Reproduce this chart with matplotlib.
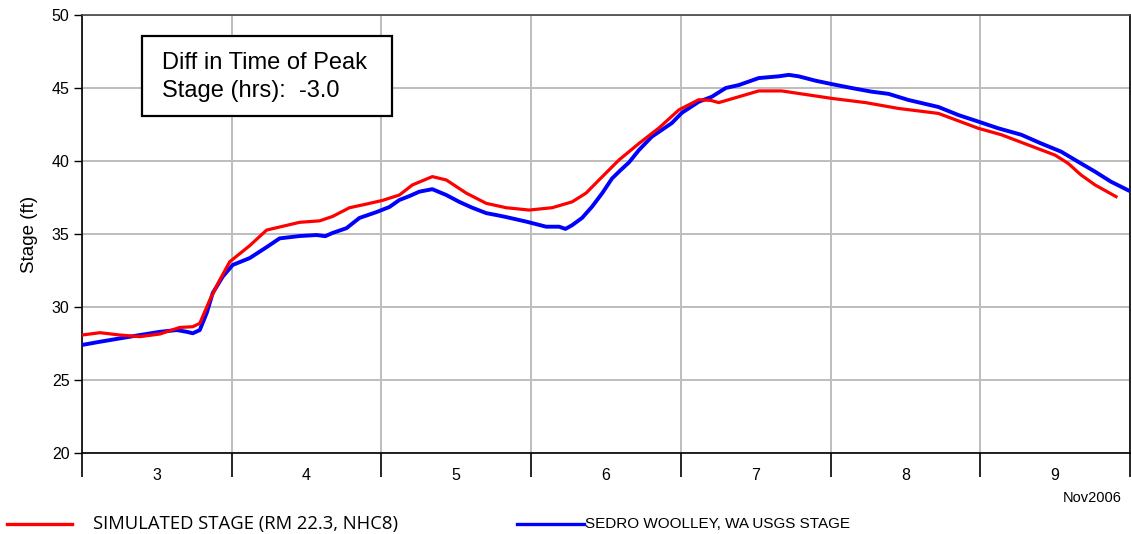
import matplotlib
matplotlib.use("Agg")
import matplotlib.pyplot as plt
from matplotlib.lines import Line2D
from matplotlib.patches import Rectangle
import numpy as np

# Hours after 2006-11-03 00:00 and stage (ft)
sim_hours = [0, 2.88, 6.08, 9.28, 12.48, 15.68, 17.76, 18.88, 20.48, 22.08, 23.68,
             26.88, 29.6, 34.88, 38.08, 40.16, 42.88, 45.6, 48.16, 50.88, 52.96,
             56.16, 58.4, 61.6, 64.8, 68.0, 71.68, 75.36, 78.56, 80.8, 82.88,
             86.08, 89.28, 92.48, 95.68, 98.88, 100.8, 102.08, 105.28, 108.48,
             112.16, 120.16, 125.6, 130.88, 137.28, 143.68, 147.36, 151.68, 156.0,
             158.08, 160.16, 162.4, 165.76]
sim_stage = [28.08, 28.24, 28.08, 27.97, 28.15, 28.6, 28.65, 28.88, 30.48, 31.85, 33.1,
             34.2, 35.27, 35.8, 35.9, 36.2, 36.8, 37.05, 37.3, 37.67, 38.36,
             38.93, 38.7, 37.8, 37.1, 36.8, 36.64, 36.8, 37.2, 37.8, 38.7,
             40.07, 41.2, 42.26, 43.5, 44.2, 44.15, 44.0, 44.4, 44.8,
             44.8, 44.29, 44.0, 43.6, 43.26, 42.24, 41.8, 41.1, 40.4,
             39.84, 39.04, 38.36, 37.56]

obs_hours = [0, 2.88, 6.08, 9.28, 12.48, 15.2, 16.8, 17.76, 18.88, 20.0, 20.96, 22.56,
             24.16, 26.88, 29.6, 31.68, 34.88, 37.6, 39.0, 40.16, 42.4, 44.48, 47.2,
             49.28, 50.88, 52.5, 54.08, 56.16, 58.4, 60.48, 62.56, 64.8, 66.4, 68.0,
             71.2, 74.4, 76.48, 77.5, 78.56, 80.16, 81.76, 83.4, 84.96, 86.4, 87.68,
             89.28, 91.36, 94.56, 96.16, 98.88, 100.96, 103.2, 105.28, 108.48,
             111.68, 113.3, 114.88, 117.6, 120.16, 123.36, 126.56, 129.28, 132.48,
             137.28, 140.48, 143.68, 146.88, 150.56, 153.76, 156.96, 159.68, 162.4,
             164.96, 167.68]
obs_stage = [27.4, 27.62, 27.85, 28.08, 28.3, 28.42, 28.3, 28.2, 28.42, 29.6, 30.96, 32.08,
             32.88, 33.35, 34.1, 34.7, 34.86, 34.93, 34.85, 35.07, 35.4, 36.1, 36.5,
             36.85, 37.33, 37.6, 37.9, 38.07, 37.67, 37.2, 36.8, 36.43, 36.3, 36.16,
             35.85, 35.5, 35.5, 35.35, 35.6, 36.1, 36.87, 37.8, 38.8, 39.4, 39.9,
             40.75, 41.67, 42.6, 43.3, 44.06, 44.4, 45.0, 45.2, 45.68,
             45.8, 45.9, 45.8, 45.5, 45.27, 45.0, 44.75, 44.6, 44.18,
             43.7, 43.15, 42.7, 42.24, 41.8, 41.2, 40.64, 39.95, 39.27,
             38.58, 38.0]

day_labels = ["3", "4", "5", "6", "7", "8", "9"]
y_ticks = [20, 25, 30, 35, 40, 45, 50]
sim_label = "SIMULATED STAGE (RM 22.3, NHC8)"
obs_label = "SEDRO WOOLLEY, WA USGS STAGE"
note_text = "Diff in Time of Peak\nStage (hrs):  -3.0"

start_day = 3
sim_x = start_day + np.array(sim_hours) / 24.0
obs_x = start_day + np.array(obs_hours) / 24.0

W, H = 1131, 534
fig = plt.figure(figsize=(W / 100, H / 100), dpi=100)
ax = fig.add_axes([82 / W, 1 - 453 / H, (1130 - 82) / W, (453 - 15) / H])

grid_c = "#bdbdbd"
ax.plot(obs_x, obs_stage, color="#0000ff", lw=2.8, solid_joinstyle="round", zorder=3)
ax.plot(sim_x, sim_stage, color="#ff0000", lw=2.3, solid_joinstyle="round", zorder=4)

ax.set_xlim(3, 9.987)
ax.set_ylim(20, 50)

# y axis
ax.set_yticks(y_ticks)
ax.set_yticklabels([str(v) for v in y_ticks], fontsize=11.5, family="Liberation Sans")
ax.tick_params(axis="y", length=6, width=1, pad=3, color="black")
ax.set_ylabel("Stage (ft)", fontsize=13.5, family="Liberation Sans", labelpad=10)

# x axis: day boundaries as long ticks, labels centred inside each day
ndays = len(day_labels)
bounds = [start_day + i for i in range(ndays + 1)]
ax.set_xticks(bounds)
ax.set_xticklabels([""] * len(bounds))
ax.tick_params(axis="x", which="major", direction="out", length=17, width=1.2, color="black")
ax.set_xticks([start_day + i + 0.5 for i in range(ndays)], minor=True)
ax.set_xticklabels(day_labels, minor=True, fontsize=11.5, family="Liberation Sans")
ax.tick_params(axis="x", which="minor", length=0, pad=11)

ax.grid(True, which="major", color=grid_c, lw=1.4, zorder=1)
for s in ax.spines.values():
    s.set_color("black")
    s.set_linewidth(1.2)
ax.spines["top"].set_color("#444444")

fig.text(1092 / W, 1 - 498 / H, "Nov2006", fontsize=10.5, family="Liberation Sans",
         ha="center", va="center")

# annotation box
fig.add_artist(Rectangle((142 / W, 1 - 116 / H), (392 - 142) / W, (116 - 36) / H,
                         transform=fig.transFigure, fc="white", ec="black", lw=1.6,
                         zorder=6))
fig.text(162 / W, 1 - 77 / H, note_text, fontsize=17, family="Liberation Sans",
         va="center", ha="left", linespacing=1.3, zorder=7)

# legend along the bottom
fig.add_artist(Line2D([7 / W, 72 / W], [1 - 524 / H] * 2, color="#ff0000", lw=2.4))
fig.text(93 / W, 1 - 524 / H, sim_label, fontsize=13.3, family="Open Sans",
         ha="left", va="center")
fig.add_artist(Line2D([517 / W, 584 / W], [1 - 524 / H] * 2, color="#0000ff", lw=2.4))
fig.text(585 / W, 1 - 524 / H, obs_label, fontsize=11, family="Liberation Sans",
         ha="left", va="center")

fig.savefig("out.png", dpi=100)
